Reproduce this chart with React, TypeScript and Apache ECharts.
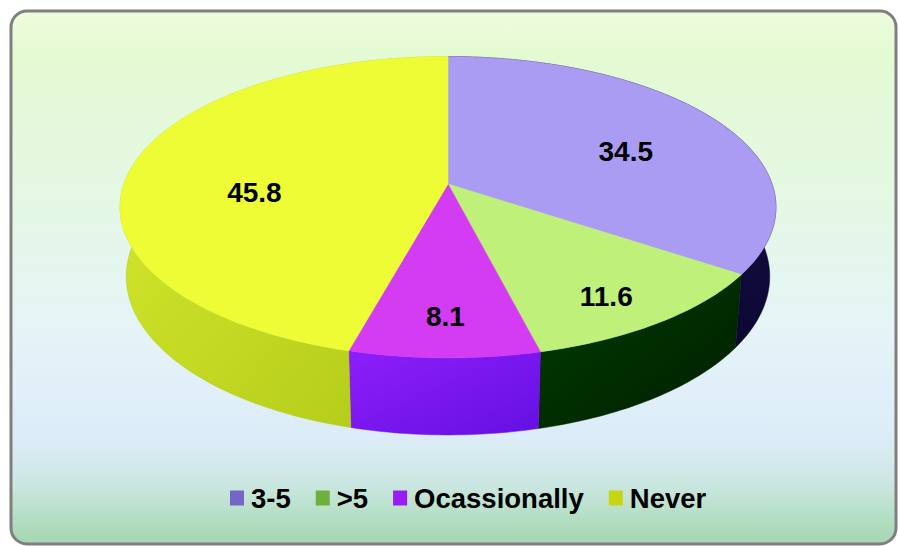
import React, { useEffect, useRef } from 'react';
import * as echarts from 'echarts';

// ---- data ----
const CATEGORIES = ['3-5', '>5', 'Ocassionally', 'Never'];
const VALUES = [34.5, 11.6, 8.1, 45.8];

// ---- styles ----
const TOP_COLORS = ['#a99cf2', '#bef07a', '#d43cf4', '#eefc36'];
const WALL_COLORS = [
  ['#2a1f70', '#0a0630'],
  ['#013c01', '#001e00'],
  ['#8e1efa', '#6410e2'],
  ['#d8ec2e', '#b0c818'],
];
const LEGEND_COLORS = ['#7466c4', '#6cb03e', '#9a1cf4', '#c6d614'];

// ---- 3D projection layout ----
const CX = 448;
const CY = 184;
const DIST = 5.78;
const FOCAL = 1873;
const TILT = (27 * Math.PI) / 180;
const SIN_T = Math.sin(TILT);
const COS_T = Math.cos(TILT);
const THICK = 0.242;
const LABEL_R = [0.65, 0.77, 0.74, 0.61];
const LABEL_DY = [10, 10, 10, 20];

function proj(angleDeg: number, r: number, y3: number): number[] {
  const a = (angleDeg * Math.PI) / 180;
  const X = r * Math.sin(a);
  const Z = -r * Math.cos(a);
  const u = X;
  const v = Z * SIN_T - y3 * COS_T;
  const w = DIST - Z * COS_T - y3 * SIN_T;
  return [CX + (FOCAL * u) / w, CY + (FOCAL * v) / w];
}

const TOTAL = VALUES.reduce((s, v) => s + v, 0);
const SLICES: number[][] = [];
{
  let acc = 0;
  VALUES.forEach((v) => {
    const a0 = (acc / TOTAL) * 360;
    acc += v;
    const a1 = (acc / TOTAL) * 360;
    SLICES.push([a0, a1, v]);
  });
}

const renderItem = (params: any, api: any) => {
  const a0 = api.value(0);
  const a1 = api.value(1);
  const val = api.value(2);
  const idx = params.seriesIndex;
  const steps = Math.max(2, Math.ceil(a1 - a0));
  const topPts: number[][] = [proj(0, 0, 0)];
  const upper: number[][] = [];
  const lower: number[][] = [];
  for (let i = 0; i <= steps; i++) {
    const a = a0 + ((a1 - a0) * i) / steps;
    const p = proj(a, 1, 0);
    topPts.push(p);
    upper.push(p);
    lower.push(proj(a, 1, -THICK));
  }
  const wall = upper.concat(lower.reverse());
  const mid = (a0 + a1) / 2;
  const lp = proj(mid, LABEL_R[idx], 0);
  return {
    type: 'group',
    children: [
      {
        type: 'polygon',
        shape: { points: wall },
        z2: 1,
        style: {
          fill: new echarts.graphic.LinearGradient(0, 0, 1, 1, [
            { offset: 0, color: WALL_COLORS[idx][0] },
            { offset: 1, color: WALL_COLORS[idx][1] },
          ]),
          stroke: WALL_COLORS[idx][1],
          lineWidth: 0.5,
        },
      },
      {
        type: 'polygon',
        shape: { points: topPts },
        z2: 10,
        style: { fill: TOP_COLORS[idx], stroke: TOP_COLORS[idx], lineWidth: 0.5 },
      },
      {
        type: 'text',
        z2: 20,
        style: {
          text: String(val),
          x: lp[0],
          y: lp[1] + LABEL_DY[idx],
          align: 'center',
          verticalAlign: 'middle',
          font: 'bold 28px "Liberation Sans", Arial, sans-serif',
          fill: '#000000',
        },
      },
    ],
  };
};

export default function App() {
  const ref = useRef<HTMLDivElement>(null);
  useEffect(() => {
    if (!ref.current) return;
    const chart = echarts.init(ref.current, undefined, { renderer: 'svg' });
    const option: any = {
      animation: false,
      graphic: [
        {
          type: 'rect',
          z: -10,
          shape: { x: 11, y: 11, width: 885, height: 533, r: 16 },
          style: {
            fill: new echarts.graphic.LinearGradient(0, 0, 0, 1, [
              { offset: 0, color: '#eefcde' },
              { offset: 0.08, color: '#e4fad2' },
              { offset: 0.35, color: '#e4f8e4' },
              { offset: 0.6, color: '#e6f4f8' },
              { offset: 0.8, color: '#dcecf8' },
              { offset: 0.88, color: '#cde8e4' },
              { offset: 0.95, color: '#b4dec4' },
              { offset: 1, color: '#a6d6b2' },
            ]),
            stroke: '#7f7f7f',
            lineWidth: 3,
          },
        },
      ],
      legend: {
        left: 225,
        top: 479,
        icon: 'rect',
        itemWidth: 14,
        itemHeight: 15,
        itemGap: 25,
        data: CATEGORIES.map((n, i) => ({ name: n, itemStyle: { color: LEGEND_COLORS[i] } })),
        textStyle: {
          fontSize: 27.5,
          fontWeight: 'bold',
          fontFamily: '"Liberation Sans", Arial, sans-serif',
          color: '#000000',
          padding: [0, 0, 0, 2],
        },
      },
      series: CATEGORIES.map((name, i) => ({
        type: 'custom',
        name,
        coordinateSystem: 'none',
        itemStyle: { color: LEGEND_COLORS[i] },
        renderItem,
        data: [SLICES[i]],
      })),
    };
    chart.setOption(option);
    return () => chart.dispose();
  }, []);
  return (
    <div
      ref={ref}
      style={{ position: 'absolute', left: 0, top: 0, width: 899, height: 546 }}
    />
  );
}
